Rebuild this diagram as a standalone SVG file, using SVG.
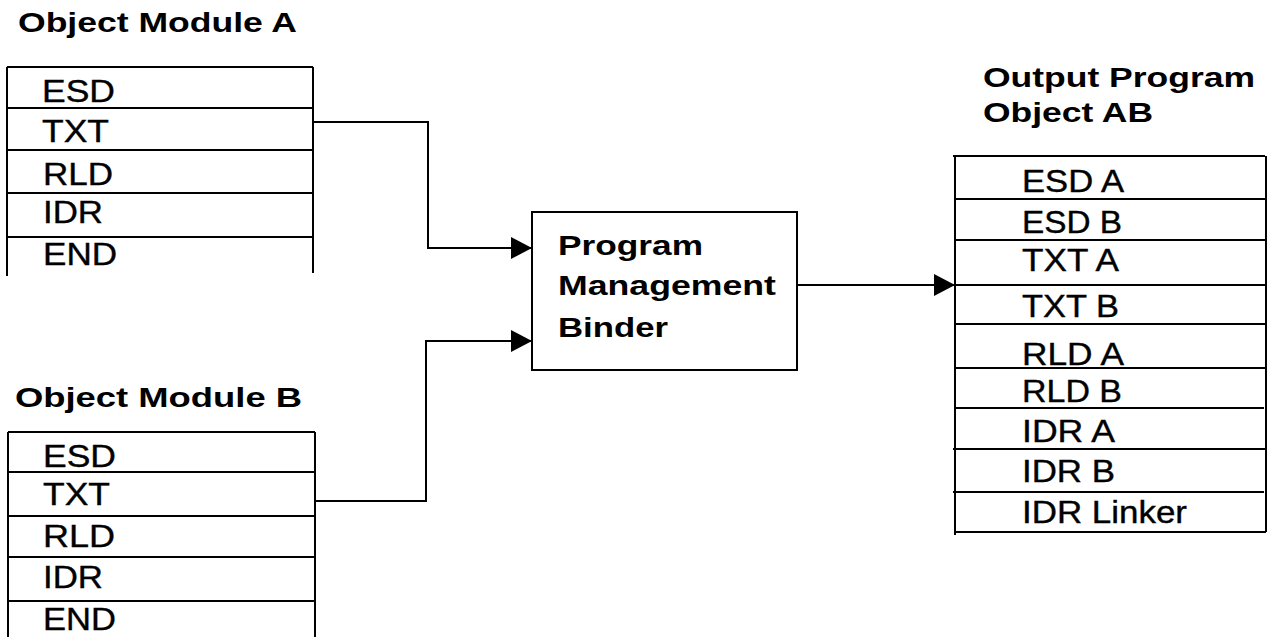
<svg xmlns="http://www.w3.org/2000/svg" width="1269" height="637" viewBox="0 0 1269 637">
<style>
.ln{stroke:#000;stroke-width:2;fill:none}
.t{font-family:"Liberation Sans",Arial,sans-serif;font-size:32px;fill:#000;stroke:#000;stroke-width:0.4}
.b{font-family:"Liberation Sans",Arial,sans-serif;font-size:27px;font-weight:bold;fill:#000}
.bb{font-family:"Liberation Sans",Arial,sans-serif;font-size:28px;font-weight:bold;fill:#000}
</style>
<defs>
<marker id="ah" viewBox="0 0 21 22" refX="21" refY="11" markerWidth="21" markerHeight="22" markerUnits="userSpaceOnUse" orient="auto">
<path d="M0,0 L21,11 L0,22 Z" fill="#000"/>
</marker>
</defs>
<rect width="1269" height="637" fill="#fff"/>

<g id="moduleA">
<text class="b" x="18" y="32" textLength="279" lengthAdjust="spacingAndGlyphs">Object Module A</text>
<path class="ln" d="M7,67 H313 M7,67 V276 M313,67 V273 M7,108 H313 M7,150 H313 M7,193 H313 M7,237 H313"/>
<text class="t" x="42" y="102" textLength="73" lengthAdjust="spacingAndGlyphs">ESD</text>
<text class="t" x="42" y="142" textLength="67" lengthAdjust="spacingAndGlyphs">TXT</text>
<text class="t" x="43" y="185" textLength="70" lengthAdjust="spacingAndGlyphs">RLD</text>
<text class="t" x="43" y="223" textLength="60" lengthAdjust="spacingAndGlyphs">IDR</text>
<text class="t" x="43" y="265" textLength="74" lengthAdjust="spacingAndGlyphs">END</text>
</g>

<g id="moduleB">
<text class="b" x="15" y="407" textLength="287" lengthAdjust="spacingAndGlyphs">Object Module B</text>
<path class="ln" d="M8,432 H315 M8,432 V637 M315,432 V637 M8,472 H315 M8,516 H315 M8,557 H315 M8,601 H315"/>
<text class="t" x="43" y="467" textLength="73" lengthAdjust="spacingAndGlyphs">ESD</text>
<text class="t" x="43" y="505" textLength="67" lengthAdjust="spacingAndGlyphs">TXT</text>
<text class="t" x="43" y="547" textLength="72" lengthAdjust="spacingAndGlyphs">RLD</text>
<text class="t" x="43" y="588" textLength="60" lengthAdjust="spacingAndGlyphs">IDR</text>
<text class="t" x="43" y="630" textLength="73" lengthAdjust="spacingAndGlyphs">END</text>
</g>

<g id="binder">
<rect class="ln" x="532" y="212" width="265" height="158"/>
<text class="bb" x="558" y="255" textLength="145" lengthAdjust="spacingAndGlyphs">Program</text>
<text class="bb" x="558" y="295" textLength="218" lengthAdjust="spacingAndGlyphs">Management</text>
<text class="bb" x="558" y="337" textLength="110" lengthAdjust="spacingAndGlyphs">Binder</text>
</g>

<g id="outputAB">
<text class="b" x="983" y="87" textLength="272" lengthAdjust="spacingAndGlyphs">Output Program</text>
<text class="b" x="983" y="122" textLength="170" lengthAdjust="spacingAndGlyphs">Object AB</text>
<path class="ln" d="M953,156 H1265 M955,156 V535 M1266,156 V532 M955,199 H1266 M955,240 H1266 M955,285 H1266 M955,324 H1266 M955,368 H1266 M955,408 H1264 M953,449 H1266 M953,492 H1264 M955,532 H1266"/>
<text class="t" x="1022" y="192" textLength="102" lengthAdjust="spacingAndGlyphs">ESD A</text>
<text class="t" x="1022" y="233" textLength="100" lengthAdjust="spacingAndGlyphs">ESD B</text>
<text class="t" x="1022" y="271" textLength="97" lengthAdjust="spacingAndGlyphs">TXT A</text>
<text class="t" x="1022" y="317" textLength="97" lengthAdjust="spacingAndGlyphs">TXT B</text>
<text class="t" x="1022" y="365" textLength="102" lengthAdjust="spacingAndGlyphs">RLD A</text>
<text class="t" x="1022" y="402" textLength="100" lengthAdjust="spacingAndGlyphs">RLD B</text>
<text class="t" x="1022" y="442" textLength="93" lengthAdjust="spacingAndGlyphs">IDR A</text>
<text class="t" x="1022" y="482" textLength="93" lengthAdjust="spacingAndGlyphs">IDR B</text>
<text class="t" x="1022" y="523" textLength="165" lengthAdjust="spacingAndGlyphs">IDR Linker</text>
</g>

<g id="connectors">
<path class="ln" d="M313,122 H428 V248 H532" marker-end="url(#ah)"/>
<path class="ln" d="M315,501 H426 V341 H532" marker-end="url(#ah)"/>
<path class="ln" d="M797,285 H955" marker-end="url(#ah)"/>
</g>
</svg>
